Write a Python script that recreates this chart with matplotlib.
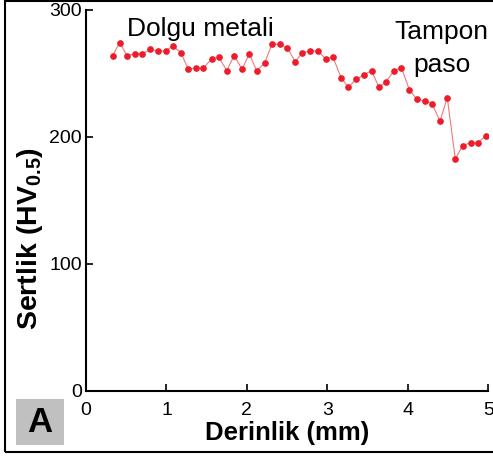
import matplotlib
matplotlib.use('Agg')
import matplotlib.pyplot as plt
from matplotlib.patches import Rectangle

plt.rcParams['font.family'] = ['Liberation Sans', 'DejaVu Sans']
plt.rcParams['mathtext.fontset'] = 'custom'
plt.rcParams['mathtext.rm'] = 'Liberation Sans'
plt.rcParams['mathtext.bf'] = 'Liberation Sans:bold'

# -------------------------------------------------------------------------
# 데이터
# -------------------------------------------------------------------------
depth_mm = [0.33, 0.42, 0.51, 0.61, 0.70, 0.80, 0.89, 0.99, 1.08, 1.18,
            1.27, 1.37, 1.46, 1.56, 1.65, 1.75, 1.84, 1.94, 2.03, 2.12,
            2.22, 2.31, 2.41, 2.50, 2.60, 2.69, 2.79, 2.88, 2.98, 3.07,
            3.17, 3.26, 3.36, 3.45, 3.55, 3.64, 3.73, 3.83, 3.92, 4.02,
            4.11, 4.21, 4.30, 4.40, 4.49, 4.59, 4.68, 4.78, 4.87, 4.97]
hardness = [264.0, 274.3, 264.0, 265.4, 265.4, 269.1, 267.7, 267.7, 271.7, 266.4,
            253.3, 254.3, 254.3, 261.4, 262.8, 252.2, 264.0, 253.3, 265.4, 252.2,
            258.0, 273.0, 273.0, 270.3, 259.3, 266.4, 267.7, 267.7, 261.4, 262.8,
            246.7, 239.1, 245.4, 248.8, 252.2, 239.1, 243.5, 252.2, 254.6, 237.0,
            229.9, 228.1, 226.2, 212.4, 230.9, 182.4, 193.1, 195.3, 195.3, 200.8]

X_TICKS = [0, 1, 2, 3, 4, 5]
Y_TICKS = [0, 100, 200, 300]

W, H = 493, 461
fig = plt.figure(figsize=(W / 100, H / 100), dpi=100)
ax = fig.add_axes([86 / W, 1 - 390.5 / H, 402.3 / W, 380.5 / H])

ax.plot(depth_mm, hardness, color='#f27878', lw=0.8, zorder=2)
ax.plot(depth_mm, hardness, ls='none', marker='o', ms=3.8,
        color='#ee1c2b', mec='#ee1c2b', zorder=3)

ax.set_xlim(0, 5)
ax.set_ylim(0, 300)
ax.set_xticks(X_TICKS)
ax.set_yticks(Y_TICKS)
ax.spines['top'].set_visible(False)
ax.spines['right'].set_visible(False)
for s in ('left', 'bottom'):
    ax.spines[s].set_linewidth(1.5)
ax.tick_params(axis='both', direction='in', length=5, width=1.2, labelsize=14)
ax.tick_params(axis='x', pad=8)
ax.tick_params(axis='y', pad=3)

ax.set_xlabel('Derinlik (mm)', fontsize=18.5, fontweight='bold', labelpad=2)
ax.set_ylabel(r'Sertlik (HV$_{\mathbf{0.5}}$)', fontsize=20.5, fontweight='bold', va='center')
ax.yaxis.set_label_coords(-0.139, 0.40)

ax.text(0.51, 279.6, 'Dolgu metali', fontsize=19, ha='left', va='baseline')
ax.text(4.42, 277.1, 'Tampon', fontsize=19, ha='center', va='baseline')
ax.text(4.42, 251.4, 'paso', fontsize=19, ha='center', va='baseline')

# 패널 라벨 박스 "A"
fig.add_artist(Rectangle((16 / W, 1 - 445 / H), 48 / W, 46 / H, transform=fig.transFigure,
                         facecolor='#c0c0c0', edgecolor='none'))
fig.text(40 / W, 1 - 422 / H, 'A', fontsize=25, fontweight='bold', ha='center', va='center')

# 바깥 테두리
fig.add_artist(Rectangle((5 / W, 1 - 452 / H), 492 / W, 451 / H, transform=fig.transFigure,
                         fill=False, edgecolor='black', lw=1.5, clip_on=False))

fig.savefig('out.png', dpi=100)
